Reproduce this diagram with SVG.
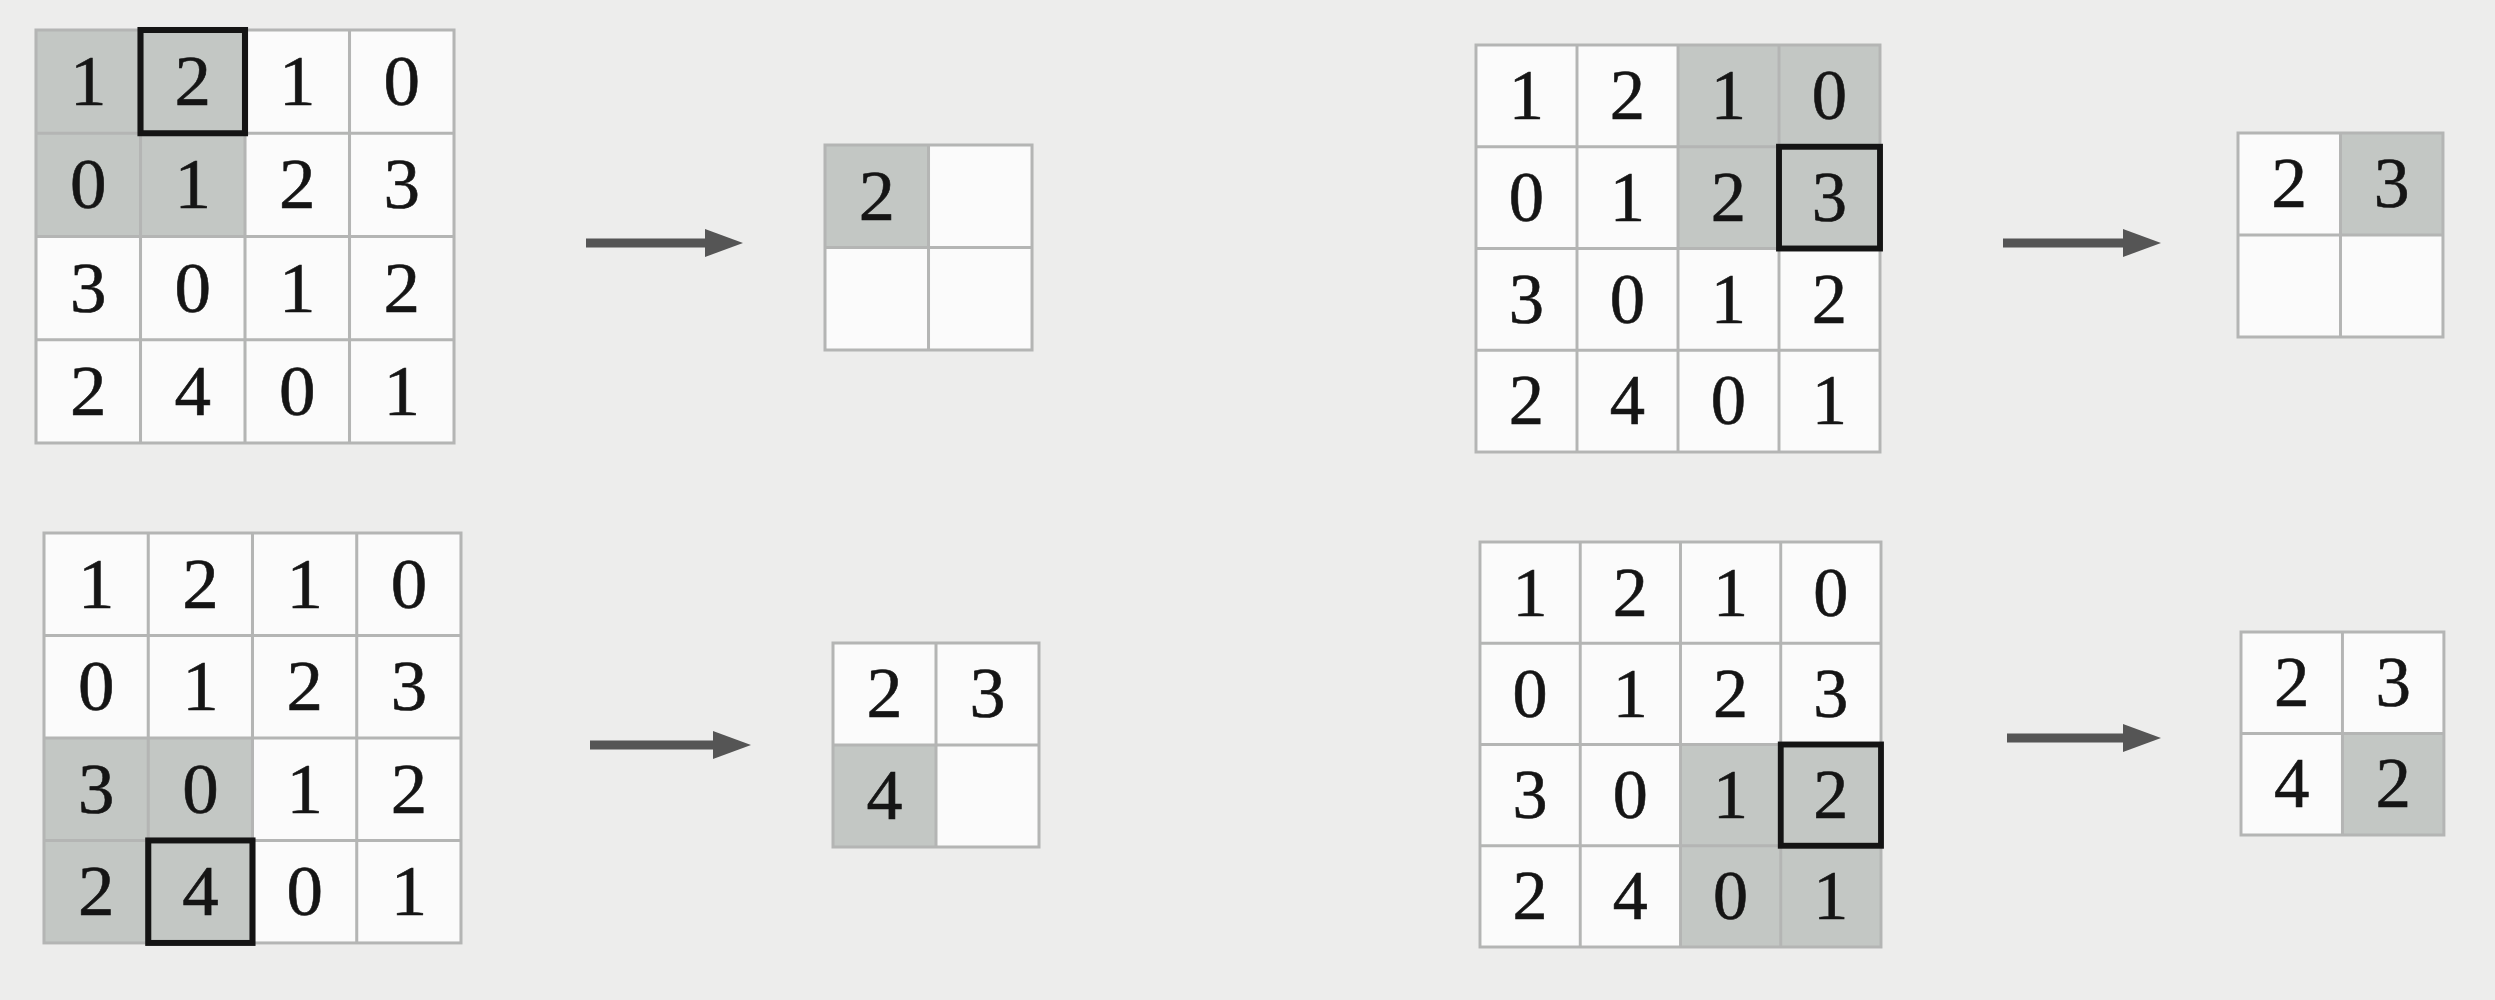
<svg xmlns="http://www.w3.org/2000/svg" xmlns:xlink="http://www.w3.org/1999/xlink" width="2495" height="1000" viewBox="0 0 2495 1000">
<style>
.bg{fill:#ededec}
.cell{fill:#fbfbfb}
.sh{fill:#c3c7c4}
.ln{fill:none;stroke:#b4b5b4;stroke-width:3}
.bold{fill:none;stroke:#141414;stroke-width:6}
.d{font-family:"Liberation Serif","Times New Roman",serif;font-size:72px;fill:#151515;stroke:#151515;stroke-width:0.6;text-anchor:middle}
.arr{stroke:#555;stroke-width:9;fill:none}
</style>
<defs>
<marker id="ah" markerWidth="40" markerHeight="28" refX="0" refY="14" orient="auto" markerUnits="userSpaceOnUse"><path d="M0,0 L38,14 L0,28 Z" fill="#555"/></marker>
<g id="grid4">
<rect class="ln" x="0" y="0" width="412" height="412"/>
<path class="ln" d="M103,0V412M206,0V412M309,0V412M0,103H412M0,206H412M0,309H412"/>
<text class="d" x="51.5" y="75">1</text><text class="d" x="154.5" y="75">2</text><text class="d" x="257.5" y="75">1</text><text class="d" x="360.5" y="75">0</text>
<text class="d" x="51.5" y="178">0</text><text class="d" x="154.5" y="178">1</text><text class="d" x="257.5" y="178">2</text><text class="d" x="360.5" y="178">3</text>
<text class="d" x="51.5" y="281">3</text><text class="d" x="154.5" y="281">0</text><text class="d" x="257.5" y="281">1</text><text class="d" x="360.5" y="281">2</text>
<text class="d" x="51.5" y="384">2</text><text class="d" x="154.5" y="384">4</text><text class="d" x="257.5" y="384">0</text><text class="d" x="360.5" y="384">1</text>
</g>
<path id="grid2" class="ln" d="M0,0H206V206H0ZM103,0V206M0,103H206"/>
</defs>
<rect class="bg" x="0" y="0" width="2495" height="1000"/>

<g id="input-tl" transform="translate(36,30) scale(1.0146,1.0024)">
<rect class="cell" x="0" y="0" width="412" height="412"/>
<rect class="sh" x="0" y="0" width="206" height="206"/>
<use xlink:href="#grid4"/>
<rect class="bold" x="103" y="0" width="103" height="103"/>
</g>
<g id="output-tl" transform="translate(825,145) scale(1.005,0.995)">
<rect class="cell" x="0" y="0" width="206" height="206"/>
<rect class="sh" x="0" y="0" width="103" height="103"/>
<use xlink:href="#grid2"/>
<text class="d" x="51.5" y="75">2</text>
</g>

<g id="input-tr" transform="translate(1476,45) scale(0.9806,0.9879)">
<rect class="cell" x="0" y="0" width="412" height="412"/>
<rect class="sh" x="206" y="0" width="206" height="206"/>
<use xlink:href="#grid4"/>
<rect class="bold" x="309" y="103" width="103" height="103"/>
</g>
<g id="output-tr" transform="translate(2238,133) scale(0.995,0.99)">
<rect class="cell" x="0" y="0" width="206" height="206"/>
<rect class="sh" x="103" y="0" width="103" height="103"/>
<use xlink:href="#grid2"/>
<text class="d" x="51.5" y="75">2</text><text class="d" x="154.5" y="75">3</text>
</g>

<g id="input-bl" transform="translate(44,533) scale(1.0121,0.995)">
<rect class="cell" x="0" y="0" width="412" height="412"/>
<rect class="sh" x="0" y="206" width="206" height="206"/>
<use xlink:href="#grid4"/>
<rect class="bold" x="103" y="309" width="103" height="103"/>
</g>
<g id="output-bl" transform="translate(833,643) scale(1.0,0.99)">
<rect class="cell" x="0" y="0" width="206" height="206"/>
<rect class="sh" x="0" y="103" width="103" height="103"/>
<use xlink:href="#grid2"/>
<text class="d" x="51.5" y="75">2</text><text class="d" x="154.5" y="75">3</text>
<text class="d" x="51.5" y="178">4</text>
</g>

<g id="input-br" transform="translate(1480,542) scale(0.9733,0.983)">
<rect class="cell" x="0" y="0" width="412" height="412"/>
<rect class="sh" x="206" y="206" width="206" height="206"/>
<use xlink:href="#grid4"/>
<rect class="bold" x="309" y="206" width="103" height="103"/>
</g>
<g id="output-br" transform="translate(2241,632) scale(0.985,0.985)">
<rect class="cell" x="0" y="0" width="206" height="206"/>
<rect class="sh" x="103" y="103" width="103" height="103"/>
<use xlink:href="#grid2"/>
<text class="d" x="51.5" y="75">2</text><text class="d" x="154.5" y="75">3</text>
<text class="d" x="51.5" y="178">4</text><text class="d" x="154.5" y="178">2</text>
</g>

<g id="connectors">
<line class="arr" x1="586" y1="243" x2="705" y2="243" marker-end="url(#ah)"/>
<line class="arr" x1="2003" y1="243" x2="2123" y2="243" marker-end="url(#ah)"/>
<line class="arr" x1="590" y1="745" x2="713" y2="745" marker-end="url(#ah)"/>
<line class="arr" x1="2007" y1="738" x2="2123" y2="738" marker-end="url(#ah)"/>
</g>
</svg>
